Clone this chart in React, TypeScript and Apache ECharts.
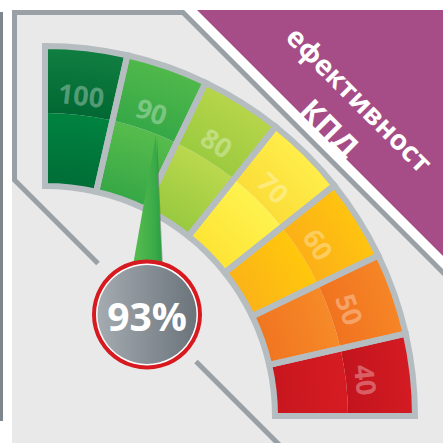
import React, { useEffect, useRef } from 'react';
import * as echarts from 'echarts';

// Segment labels (top → right) and their equal shares of the quarter dial
const CATEGORIES = ['100', '90', '80', '70', '60', '50', '40'];
const SEGMENT_SHARES = [1, 1, 1, 1, 1, 1, 1];
// [dark (inner edge), light (outer edge)] per band
const OUTER_BAND_COLORS: [string, string][] = [
  ['#016833', '#117f41'],
  ['#36a847', '#51b94b'],
  ['#9ccb40', '#b7d54a'],
  ['#fbdd38', '#ffee4b'],
  ['#fbb017', '#ffc410'],
  ['#f1731f', '#f68626'],
  ['#c3141d', '#d41b22'],
];
const INNER_BAND_COLORS: [string, string][] = [
  ['#006d37', '#00833f'],
  ['#35a746', '#57bc4c'],
  ['#97c93f', '#bbd84d'],
  ['#fde434', '#fff24e'],
  ['#fbb318', '#ffc70c'],
  ['#f17520', '#f68a28'],
  ['#c8161e', '#d61c23'],
];
const EFFICIENCY = 93;
const TITLE_LINES = ['ефективност', 'КПД'];

export default function App() {
  const ref = useRef<HTMLDivElement>(null);

  useEffect(() => {
    const chart = echarts.init(ref.current!, null, { renderer: 'svg' });
    const CX = 45;
    const CY = 416;
    const R_IN = 230;
    const R_MID = 303;
    const R_OUT = 370;
    const FONT = '"Open Sans", "Noto Sans", sans-serif';

    const radial = (r0: number, r1: number, dark: string, light: string) =>
      new echarts.graphic.RadialGradient(
        CX,
        CY,
        R_OUT,
        [
          { offset: r0 / R_OUT, color: dark },
          { offset: r1 / R_OUT, color: light },
        ],
        true
      );

    const basePie = {
      type: 'pie',
      center: [CX, CY],
      startAngle: 90,
      endAngle: 0,
      clockwise: true,
      silent: true,
      animation: false,
      avoidLabelOverlap: false,
      label: { show: false },
      labelLine: { show: false },
      emphasis: { disabled: true },
    };

    const CIRCLE_X = 147;
    const CIRCLE_Y = 314.5;

    const option: any = {
      animation: false,
      series: [
        {
          ...basePie,
          z: 2,
          radius: [R_IN, R_MID],
          data: CATEGORIES.map((c, i) => ({
            name: c,
            value: SEGMENT_SHARES[i],
            itemStyle: { color: radial(R_IN, R_MID, INNER_BAND_COLORS[i][0], INNER_BAND_COLORS[i][1]) },
          })),
        },
        {
          ...basePie,
          z: 2,
          radius: [R_MID, R_OUT],
          data: CATEGORIES.map((c, i) => ({
            name: c,
            value: SEGMENT_SHARES[i],
            itemStyle: { color: radial(R_MID, R_OUT, OUTER_BAND_COLORS[i][0], OUTER_BAND_COLORS[i][1]) },
          })),
        },
        {
          ...basePie,
          z: 3,
          radius: [R_IN, R_OUT],
          itemStyle: { color: 'rgba(0,0,0,0)', borderColor: '#b6bdc1', borderWidth: 6, borderJoin: 'miter' },
          data: CATEGORIES.map((c, i) => ({ name: c, value: SEGMENT_SHARES[i] })),
        },
        {
          ...basePie,
          z: 4,
          radius: [300, 340],
          itemStyle: { color: 'rgba(0,0,0,0)' },
          label: {
            show: true,
            position: 'inside',
            rotate: 'tangential',
            formatter: '{b}',
            fontSize: 27,
            fontWeight: 'bold',
            fontFamily: FONT,
            color: 'rgba(255,255,255,0.33)',
          },
          data: CATEGORIES.map((c, i) => ({ name: c, value: SEGMENT_SHARES[i] })),
        },
      ],
      graphic: [
        { type: 'rect', z: 0, silent: true, shape: { x: 0, y: 12, width: 3, height: 409 }, style: { fill: '#7f878d' } },
        {
          type: 'polygon',
          z: 0,
          silent: true,
          shape: { points: [[12, 10], [182, 10], [443, 271], [443, 443], [12, 443]] },
          style: { fill: '#e9e9e9' },
        },
        {
          type: 'polygon',
          z: 0,
          silent: true,
          shape: { points: [[197, 10], [443, 10], [443, 256]] },
          style: { fill: '#a64c86' },
        },
        {
          type: 'polyline',
          z: 1,
          silent: true,
          shape: { points: [[98, 263.5], [14.5, 180], [14.5, 12.5], [183, 12.5], [446, 275.5]] },
          style: { stroke: '#99a0a6', lineWidth: 5, fill: null, lineJoin: 'miter' },
        },
        {
          type: 'polyline',
          z: 1,
          silent: true,
          shape: { points: [[196, 361.5], [280, 445.5]] },
          style: { stroke: '#99a0a6', lineWidth: 5, fill: null },
        },
        // needle shadow
        {
          type: 'polygon',
          z: 10,
          silent: true,
          shape: { points: [[157, 137], [164, 290], [158, 290]] },
          style: { fill: 'rgba(40,60,40,0.35)' },
        },
        // needle
        {
          type: 'polygon',
          z: 11,
          silent: true,
          shape: { points: [[156, 135], [129.5, 285], [163, 285]] },
          style: {
            fill: new echarts.graphic.LinearGradient(0, 0, 1, 0, [
              { offset: 0, color: '#5fc050' },
              { offset: 0.75, color: '#3aab48' },
              { offset: 1, color: '#2a9a44' },
            ]),
          },
        },
        {
          type: 'circle',
          z: 12,
          silent: true,
          shape: { cx: CIRCLE_X, cy: CIRCLE_Y, r: 55 },
          style: { fill: '#d71920' },
        },
        {
          type: 'circle',
          z: 13,
          silent: true,
          shape: { cx: CIRCLE_X, cy: CIRCLE_Y, r: 51 },
          style: { fill: '#ffffff' },
        },
        {
          type: 'circle',
          z: 14,
          silent: true,
          shape: { cx: CIRCLE_X, cy: CIRCLE_Y, r: 49.5 },
          style: {
            fill: new echarts.graphic.LinearGradient(0, 0, 1, 0, [
              { offset: 0, color: '#a4abb1' },
              { offset: 1, color: '#6a747a' },
            ]),
          },
        },
        {
          type: 'text',
          z: 15,
          silent: true,
          x: CIRCLE_X,
          y: CIRCLE_Y + 1,
          style: {
            text: `${EFFICIENCY}%`,
            fill: '#ffffff',
            fontSize: 39,
            fontWeight: 'bold',
            fontFamily: FONT,
            align: 'center',
            verticalAlign: 'middle',
          },
        },
        {
          type: 'text',
          z: 15,
          silent: true,
          x: 360,
          y: 99,
          rotation: -Math.PI / 4,
          style: {
            text: TITLE_LINES[0],
            fill: '#ffffff',
            fontSize: 28,
            fontWeight: 'bold',
            fontFamily: FONT,
            align: 'center',
            verticalAlign: 'middle',
          },
        },
        {
          type: 'text',
          z: 15,
          silent: true,
          x: 330,
          y: 128,
          rotation: -Math.PI / 4,
          style: {
            text: TITLE_LINES[1],
            fill: '#ffffff',
            fontSize: 31,
            fontWeight: 'bold',
            fontFamily: FONT,
            align: 'center',
            verticalAlign: 'middle',
          },
        },
      ],
    };

    chart.setOption(option);
    return () => chart.dispose();
  }, []);

  return (
    <div
      ref={ref}
      style={{ position: 'fixed', left: 0, top: 0, width: 443, height: 443, background: '#ffffff' }}
    />
  );
}
